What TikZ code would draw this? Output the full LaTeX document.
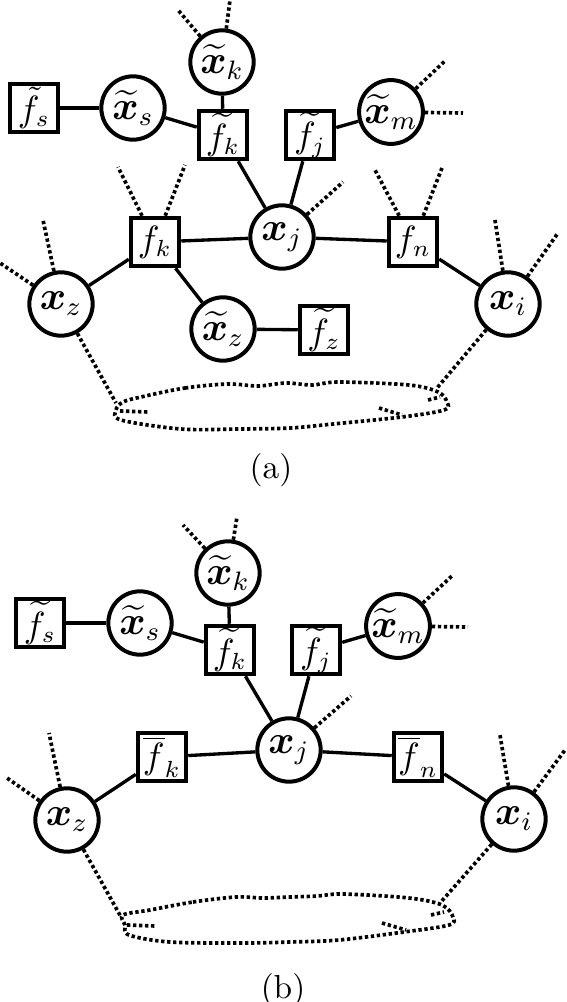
\documentclass[tikz,border=0pt]{standalone}
\usepackage{amsmath,bm}
\begin{document}
\begin{tikzpicture}[x=0.3pt,y=-0.3pt,
  var/.style={circle,draw,line width=1.2pt,minimum size=19pt,inner sep=0pt,font=\large},
  fac/.style={rectangle,draw,line width=1.35pt,minimum size=14.4pt,inner sep=0pt,font=\fontsize{10.5pt}{12pt}\selectfont},
  edge/.style={line width=1pt},
  dots/.style={line width=1.1pt,dash pattern=on 1pt off 0.8pt},
  captext/.style={inner sep=0pt}]
\useasboundingbox (0,0) rectangle (566,1002);

% ================= (a) =================
\node[var] (xka) at (222,62) {$\widetilde{\bm{x}}_k$};
\node[var] (xsa) at (133,108) {$\widetilde{\bm{x}}_s$};
\node[fac] (fsa) at (34,108) {$\tilde{f}_s$};
\node[fac] (fka) at (223,135) {$\widetilde{f}_k$};
\node[fac] (fja) at (310,135) {$\widetilde{f}_j$};
\node[var] (xma) at (391,112) {$\widetilde{\bm{x}}_m$};
\node[var] (xja) at (282,237) {$\bm{x}_j$};
\node[fac] (fkba) at (155,242) {$f_k$};
\node[fac] (fna) at (413,242) {$f_n$};
\node[var] (xza) at (61,304) {$\bm{x}_z$};
\node[var] (xia) at (508,304) {$\bm{x}_i$};
\node[var] (xtza) at (223,329) {$\widetilde{\bm{x}}_z$};
\node[fac] (ftza) at (324,330) {$\widetilde{f}_z$};

\draw[edge] (fsa) -- (xsa);
\draw[edge] (xsa) -- (fka);
\draw[edge] (xka) -- (fka);
\draw[edge] (fka) -- (xja);
\draw[edge] (fja) -- (xja);
\draw[edge] (fja) -- (xma);
\draw[edge] (fkba) -- (xja);
\draw[edge] (xja) -- (fna);
\draw[edge] (fkba) -- (xza);
\draw[edge] (fna) -- (xia);
\draw[edge] (fkba) -- (xtza);
\draw[edge] (xtza) -- (ftza);

\coordinate (a1) at (178,10);
\coordinate (a2) at (230,0);
\coordinate (a3) at (446,60);
\coordinate (a4) at (463,113);
\coordinate (a5) at (118,167);
\coordinate (a6) at (185,165);
\coordinate (a7) at (343,182);
\coordinate (a8) at (375,170);
\coordinate (a9) at (442,168);
\coordinate (a10) at (43,220);
\coordinate (a11) at (0,263);
\coordinate (a12) at (495,220);
\coordinate (a13) at (558,233);
\coordinate (a14) at (116,403);
\coordinate (a15) at (437,388);
\draw[dots] (xka) -- (a1);
\draw[dots] (xka) -- (a2);
\draw[dots] (xma) -- (a3);
\draw[dots] (xma) -- (a4);
\draw[dots] (fkba) -- (a5);
\draw[dots] (fkba) -- (a6);
\draw[dots] (xja) -- (a7);
\draw[dots] (fna) -- (a8);
\draw[dots] (fna) -- (a9);
\draw[dots] (xza) -- (a10);
\draw[dots] (xza) -- (a11);
\draw[dots] (xia) -- (a12);
\draw[dots] (xia) -- (a13);
\draw[dots] (xza) -- (a14);
\draw[dots] (xia) -- (a15);

% cloud (a)
\draw[dots] plot[smooth cycle,tension=0.55] coordinates {
 (141,397) (185,388) (228,384) (258,386) (286,383) (312,385) (339,382)
 (409,385) (438,392) (447,402) (444,410) (402,417) (333,424) (290,428)
 (239,429) (181,429) (121,420) (116,410) (123,402)};
\draw[dots] (120,411) -- (149,412);
\draw[dots] (379,408) -- (402,415);
\draw[dots] (428,400) -- (440,397);

\node[captext] (capa) at (271,470) {(a)};

% ================= (b) =================
\node[var] (xkb) at (228,573) {$\widetilde{\bm{x}}_k$};
\node[fac] (fsb) at (40,623) {$\widetilde{f}_s$};
\node[var] (xsb) at (140,623) {$\widetilde{\bm{x}}_s$};
\node[fac] (fkb) at (230,650) {$\widetilde{f}_k$};
\node[fac] (fjb) at (316,650) {$\widetilde{f}_j$};
\node[var] (xmb) at (398,626) {$\widetilde{\bm{x}}_m$};
\node[var] (xjb) at (289,750) {$\bm{x}_j$};
\node[fac] (fkbb) at (162,757) {$\overline{f}_k$};
\node[fac] (fnbb) at (418,757) {$\overline{f}_n$};
\node[var] (xzb) at (67,820) {$\bm{x}_z$};
\node[var] (xib) at (514,819) {$\bm{x}_i$};

\draw[edge] (fsb) -- (xsb);
\draw[edge] (xsb) -- (fkb);
\draw[edge] (xkb) -- (fkb);
\draw[edge] (fkb) -- (xjb);
\draw[edge] (fjb) -- (xjb);
\draw[edge] (fjb) -- (xmb);
\draw[edge] (fkbb) -- (xjb);
\draw[edge] (xjb) -- (fnbb);
\draw[edge] (fkbb) -- (xzb);
\draw[edge] (fnbb) -- (xib);

\coordinate (b1) at (183,525);
\coordinate (b2) at (237,517);
\coordinate (b3) at (453,575);
\coordinate (b4) at (468,627);
\coordinate (b5) at (351,696);
\coordinate (b6) at (49,733);
\coordinate (b7) at (7,778);
\coordinate (b8) at (500,735);
\coordinate (b9) at (565,750);
\coordinate (b10) at (121,917);
\coordinate (b11) at (440,903);
\draw[dots] (xkb) -- (b1);
\draw[dots] (xkb) -- (b2);
\draw[dots] (xmb) -- (b3);
\draw[dots] (xmb) -- (b4);
\draw[dots] (xjb) -- (b5);
\draw[dots] (xzb) -- (b6);
\draw[dots] (xzb) -- (b7);
\draw[dots] (xib) -- (b8);
\draw[dots] (xib) -- (b9);
\draw[dots] (xzb) -- (b10);
\draw[dots] (xib) -- (b11);

% cloud (b)
\draw[dots] plot[smooth cycle,tension=0.55] coordinates {
 (150,910) (193,902) (236,897) (263,898) (290,897) (317,896) (344,894)
 (409,898) (442,905) (453,917) (449,925) (404,932) (339,940) (290,942)
 (243,943) (170,942) (129,935) (125,925) (123,915)};
\draw[dots] (127,925) -- (156,926);
\draw[dots] (382,923) -- (406,930);
\draw[dots] (431,915) -- (444,912);

\node[captext] (capb) at (283,990) {(b)};
\end{tikzpicture}
\end{document}
